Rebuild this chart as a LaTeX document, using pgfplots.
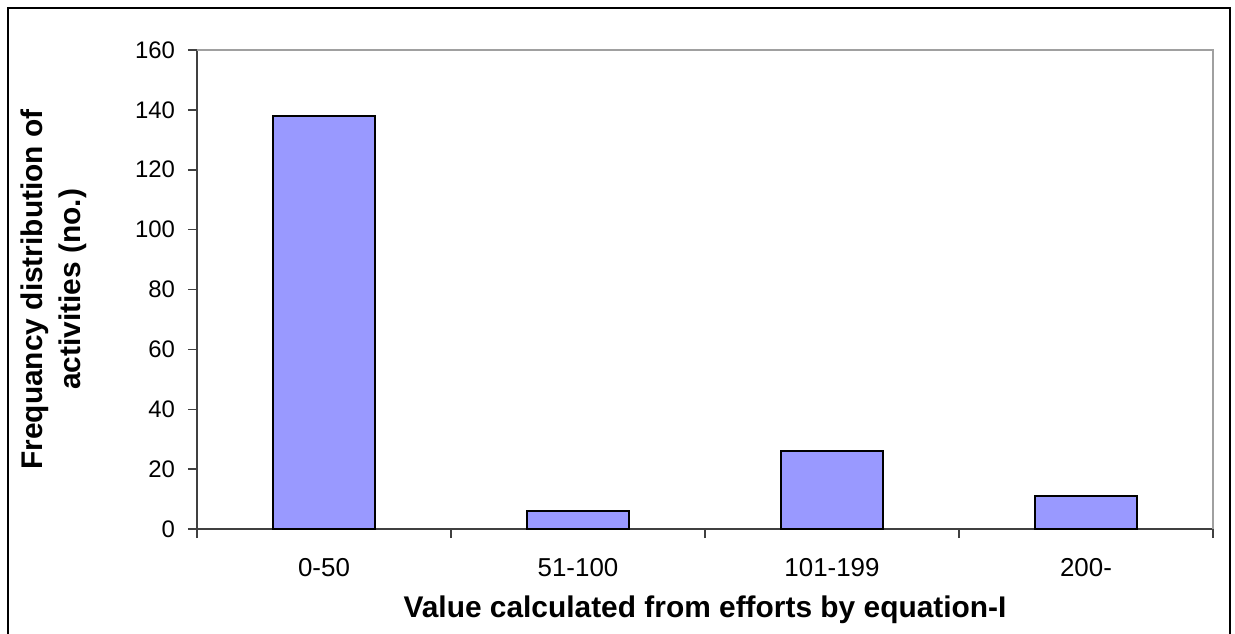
\documentclass[border=0pt]{standalone}
\usepackage{fontspec}
\setmainfont{Liberation Sans}
\usepackage{pgfplots}
\pgfplotsset{compat=1.18}
\definecolor{barfill}{HTML}{9999FF}
\definecolor{axisdark}{HTML}{404040}
\definecolor{axisgray}{HTML}{A0A0A0}
\begin{document}
\begin{tikzpicture}
\begin{axis}[
  name=ax,
  scale only axis,
  width=508bp, height=239.5bp,
  xmin=-0.5, xmax=3.5, ymin=0, ymax=160,
  axis x line*=bottom, axis y line*=left,
  axis line style={axisdark, line width=1bp, -},
  tick align=outside,
  major tick length=4.5bp,
  tick style={axisdark, line width=0.75bp},
  ytick={0,20,...,160},
  xtick={-0.5,0.5,1.5,2.5,3.5},
  xticklabels={},
  extra x ticks={0,1,2,3},
  extra x tick labels={0-50,51-100,101-199,200-},
  extra x tick style={major tick length=0pt, xticklabel style={anchor=center, yshift=-19.25bp, font=\fontsize{13}{15}\selectfont}},
  /pgf/number format/assume math mode=true,
  yticklabel style={anchor=east, xshift=-3bp, font=\fontsize{12}{14}\selectfont},
  xlabel={Value calculated from efforts by equation-I},
  ylabel={Frequancy distribution of\\activities (no.)},
  xlabel style={font=\bfseries\fontsize{15}{19}\selectfont, at={(axis description cs:0.5,-0.168)}, anchor=center},
  ylabel style={font=\bfseries\fontsize{15}{19}\selectfont, align=center, at={(axis description cs:-0.1407,0.5)}, anchor=center},
  clip=false,
]
\addplot[ybar, bar width=0.4, fill=barfill, draw=black, line width=1.25bp] coordinates {(0,138) (1,6) (2,26) (3,11)};
\draw[axisgray, line width=1bp] (rel axis cs:0,1) -- (rel axis cs:1,1) -- (rel axis cs:1,0);
\end{axis}
\path[use as bounding box] ([xshift=-98.5bp,yshift=-52bp]ax.south west) rectangle ([xshift=11bp,yshift=25bp]ax.north east);
\draw[black, line width=1bp] ([xshift=-94.5bp,yshift=-70bp]ax.south west) -- ([xshift=-94.5bp,yshift=21bp]ax.north west) -- ([xshift=8.5bp,yshift=21bp]ax.north east) -- ([xshift=8.5bp,yshift=-70bp]ax.south east);
\end{tikzpicture}
\end{document}
